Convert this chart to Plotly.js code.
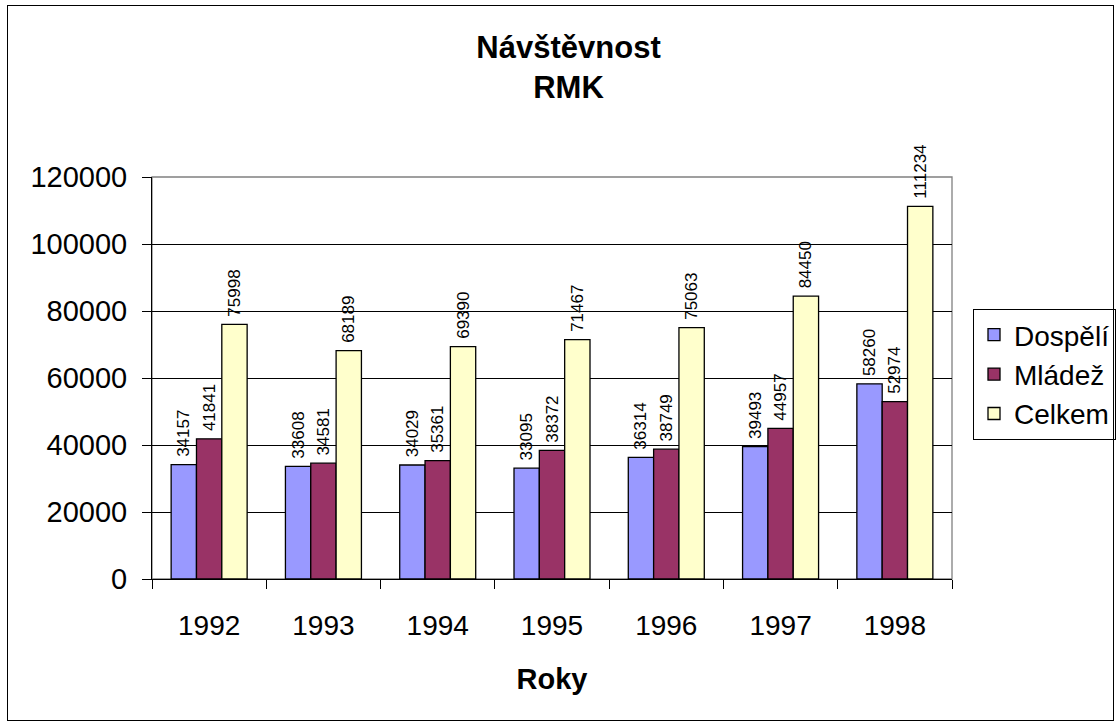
<!DOCTYPE html>
<html><head><meta charset="utf-8">
<script src="https://cdn.plot.ly/plotly-3.0.1.min.js"></script>
<style>
html,body{margin:0;padding:0;background:#fff;}
#wrap{position:relative;width:1117px;height:725px;}
#chart{width:1117px;height:725px;}
#frame{position:absolute;left:7px;top:5px;width:1105px;height:714px;border:1px solid #000;pointer-events:none;}
</style></head>
<body>
<div id="wrap"><div id="chart"></div><div id="frame"></div></div>
<script>
const years = ['1992','1993','1994','1995','1996','1997','1998'];
const dospeli = [34157, 33608, 34029, 33095, 36314, 39493, 58260];
const mladez = [41841, 34581, 35361, 38372, 38749, 44957, 52974];
const celkem = [75998, 68189, 69390, 71467, 75063, 84450, 111234];
const seriesNames = ['Dospělí', 'Mládež', 'Celkem'];
const colors = ['#9999FF', '#993366', '#FFFFCC'];
const FONT = 'Arial, "Liberation Sans", sans-serif';

const allSeries = [dospeli, mladez, celkem];
const traces = allSeries.map((vals, i) => ({
  type: 'bar',
  name: seriesNames[i],
  x: years,
  y: vals,
  text: vals.map(v => '\u00a0' + String(v)),
  textposition: 'outside',
  textangle: -90,
  constraintext: 'none',
  cliponaxis: false,
  textfont: {family: FONT, size: 17, color: '#000'},
  marker: {color: colors[i], line: {color: '#000', width: 1.3}},
  hoverinfo: 'x+y+name'
}));

const layout = {
  width: 1117, height: 725,
  margin: {l: 152, r: 165, t: 177, b: 146},
  paper_bgcolor: '#fff', plot_bgcolor: '#fff',
  font: {family: FONT, size: 28, color: '#000'},
  title: {text: '<b>Návštěvnost</b><br><b>RMK</b>', font: {family: FONT, size: 31, color: '#000'},
          x: 0.509, xanchor: 'center', y: 1 - 58/725, yanchor: 'top', yref: 'container'},
  barmode: 'group', bargap: 0.335, bargroupgap: 0,
  xaxis: {type: 'category', tickson: 'boundaries', ticks: 'outside', ticklen: 9, tickcolor: '#000',
          showline: true, linecolor: '#000', linewidth: 1, showgrid: false,
          tickfont: {family: FONT, size: 28}, ticklabelstandoff: 21,
          title: {text: '<b>Roky</b>', font: {family: FONT, size: 29}, standoff: 29}},
  yaxis: {range: [0, 120000], dtick: 20000, tick0: 0, ticks: 'outside', ticklen: 9, tickcolor: '#000',
          showline: true, linecolor: '#000', linewidth: 1, showgrid: true, gridcolor: '#000', gridwidth: 1,
          zeroline: false, tickformat: 'd', tickfont: {family: FONT, size: 29}, ticklabelstandoff: 9},
  shapes: [{type: 'rect', xref: 'paper', yref: 'paper', x0: 0, x1: 1, y0: 0, y1: 1,
            line: {color: '#808080', width: 1.3}, layer: 'below'}],
  legend: {xref: 'container', yref: 'container', x: 973/1117, xanchor: 'left', y: 1 - 309/725, yanchor: 'top',
           bordercolor: '#000', borderwidth: 1,
           bgcolor: '#fff', font: {family: FONT, size: 28}, itemwidth: 30},
  showlegend: true
};

Plotly.newPlot('chart', traces, layout, {displayModeBar: false, staticPlot: true});
</script>
</body></html>
